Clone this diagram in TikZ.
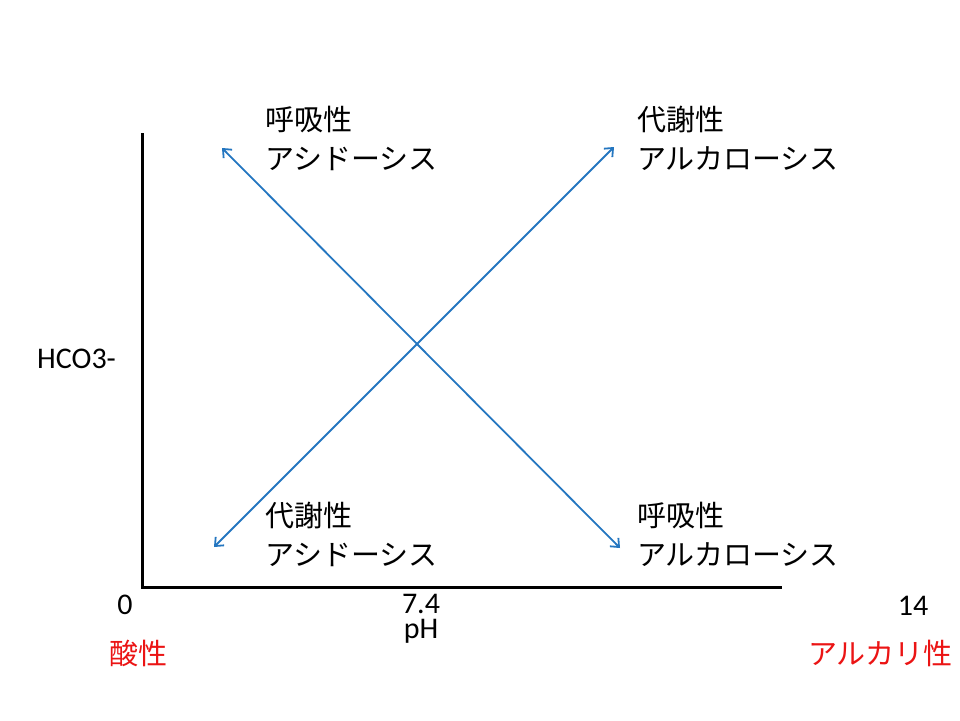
\documentclass[tikz,border=0pt]{standalone}
\usepackage{fontspec}
\setmainfont{Carlito}
\newfontfamily\cjk{Noto Sans CJK JP}
\usetikzlibrary{arrows.meta}
\definecolor{arrowblue}{RGB}{36,118,192}
\definecolor{labred}{RGB}{235,20,20}
\tikzset{
  jp/.style={font=\cjk\fontsize{29}{39}\selectfont, align=left, anchor=north west, inner sep=0pt},
  lat/.style={font=\fontsize{30}{36}\selectfont, inner sep=0pt},
  redlab/.style={font=\cjk\fontsize{29}{36}\selectfont, text=labred, inner sep=0pt, anchor=base west},
  axisline/.style={line width=3pt, black},
  dblarrow/.style={draw=arrowblue, line width=1.8pt, {Straight Barb[length=7pt,width=12pt]}-{Straight Barb[length=7pt,width=12pt]}}
}
\begin{document}
\begin{tikzpicture}[x=1pt,y=-1pt]
\useasboundingbox (0,0) rectangle (960,720);
% axes
\coordinate (top) at (142,133);
\coordinate (origin) at (142,587);
\coordinate (right) at (782,587);
\draw[axisline] (top) -- (origin) -- (right);
% arrow end points
\coordinate (bl) at (214,547);
\coordinate (tr) at (614,147);
\coordinate (tl) at (222,148);
\coordinate (br) at (620,548);
\draw[dblarrow] (bl) -- (tr);
\draw[dblarrow] (tl) -- (br);
% labels
\node[jp] (racid) at (265,106) {呼吸性\\アシドーシス};
\node[jp] (malk) at (637,106) {代謝性\\アルカローシス};
\node[jp] (macid) at (265,502) {代謝性\\アシドーシス};
\node[jp] (ralk) at (637,502) {呼吸性\\アルカローシス};
\node[lat, anchor=base west] (hco) at (37,368) {HCO3-};
\node[lat, anchor=base] (zero) at (125,614) {0};
\node[lat, anchor=north, align=center, font=\fontsize{30}{25}\selectfont] (mid) at (421,594.5) {7.4\\pH};
\node[lat, anchor=base] (fourteen) at (913,615) {14};
\node[redlab] (acid) at (109,664) {酸性};
\node[redlab] (alk) at (808,664) {アルカリ性};
\end{tikzpicture}
\end{document}
